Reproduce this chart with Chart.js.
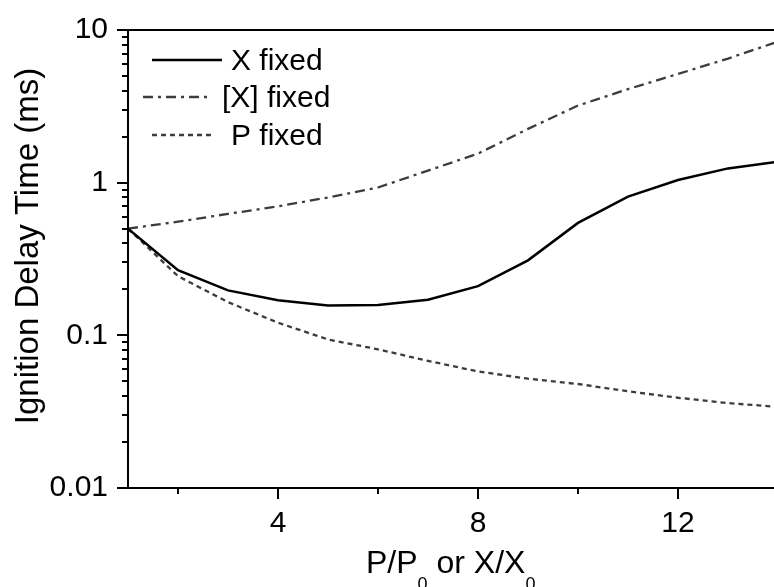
<!DOCTYPE html>
<html>
<head>
    <title>Ignition Delay Time</title>
    <script src="https://cdn.jsdelivr.net/npm/chart.js"></script>
    <style>
        body { margin: 0; background: #fff; }
    </style>
</head>
<body>
    <div style="width: 774px; height: 587px">
        <canvas id="delayChart"></canvas>
    </div>
    <script>
        // values
        const ratio = [1, 2, 3, 4, 5, 6, 7, 8, 9, 10, 11, 12, 13, 14];
        const xFixed = [0.5, 0.267, 0.197, 0.170, 0.157, 0.158, 0.171, 0.21, 0.31, 0.545, 0.81, 1.04, 1.24, 1.37];
        const concFixed = [0.5, 0.555, 0.625, 0.70, 0.80, 0.93, 1.2, 1.55, 2.25, 3.2, 4.1, 5.15, 6.5, 8.4];
        const pFixed = [0.5, 0.244, 0.165, 0.121, 0.094, 0.081, 0.068, 0.058, 0.052, 0.048, 0.043, 0.039, 0.036, 0.034];

        const xTickLabels = [4, 8, 12];
        const xMinorTicks = [2, 6, 10, 14];
        const yTickLabels = [0.01, 0.1, 1, 10];
        const seriesNames = ['X fixed', '[X] fixed', 'P fixed'];
        const yTitle = 'Ignition Delay Time (ms)';

        const font = 'Liberation Sans, Arial, sans-serif';
        const pts = (ys) => ratio.map((x, i) => ({ x: x, y: ys[i] }));

        // axes, tick marks, legend and axis titles drawn on the canvas
        const framePlugin = {
            id: 'frame',
            afterDatasetsDraw(chart) {
                const ctx = chart.ctx;
                const area = chart.chartArea;
                const xs = chart.scales.x;
                const ys = chart.scales.y;
                ctx.save();
                ctx.strokeStyle = '#000';
                ctx.lineWidth = 2;
                ctx.beginPath();
                ctx.moveTo(area.right + 2, area.top);
                ctx.lineTo(area.left, area.top);
                ctx.lineTo(area.left, area.bottom);
                ctx.lineTo(area.right + 2, area.bottom);
                ctx.stroke();

                // y ticks (major + log minors)
                for (let d = 0; d < yTickLabels.length; d++) {
                    const dec = yTickLabels[d];
                    for (let m = 1; m <= 9; m++) {
                        const v = dec * m;
                        if (v > yTickLabels[yTickLabels.length - 1] + 1e-9) break;
                        const py = Math.round(ys.getPixelForValue(v));
                        const len = m === 1 ? 11 : 6;
                        ctx.beginPath();
                        ctx.moveTo(area.left - len, py);
                        ctx.lineTo(area.left, py);
                        ctx.stroke();
                    }
                }
                // x ticks
                xTickLabels.forEach(v => {
                    const px = Math.round(xs.getPixelForValue(v));
                    ctx.beginPath();
                    ctx.moveTo(px, area.bottom);
                    ctx.lineTo(px, area.bottom + 11);
                    ctx.stroke();
                });
                xMinorTicks.forEach(v => {
                    const px = Math.round(xs.getPixelForValue(v));
                    ctx.beginPath();
                    ctx.moveTo(px, area.bottom);
                    ctx.lineTo(px, area.bottom + 6);
                    ctx.stroke();
                });

                // legend
                const rows = [
                    { x0: 152, x1: 222, y: 60, tx: 231, base: 70 },
                    { x0: 143, x1: 207, y: 97, tx: 222, base: 107 },
                    { x0: 152, x1: 213, y: 135, tx: 231, base: 145 }
                ];
                chart.data.datasets.forEach((ds, i) => {
                    const r = rows[i];
                    ctx.strokeStyle = ds.borderColor;
                    ctx.lineWidth = ds.borderWidth;
                    ctx.setLineDash(ds.borderDash || []);
                    ctx.beginPath();
                    ctx.moveTo(r.x0, r.y);
                    ctx.lineTo(r.x1, r.y);
                    ctx.stroke();
                    ctx.setLineDash([]);
                    ctx.fillStyle = '#000';
                    ctx.font = '30px ' + font;
                    ctx.textAlign = 'left';
                    ctx.textBaseline = 'alphabetic';
                    ctx.fillText(seriesNames[i], r.tx, r.base);
                });

                // y axis title
                ctx.fillStyle = '#000';
                ctx.font = '33px ' + font;
                ctx.save();
                ctx.translate(29, 246);
                ctx.rotate(-Math.PI / 2);
                ctx.textAlign = 'center';
                ctx.textBaseline = 'middle';
                ctx.fillText(yTitle, 0, 0);
                ctx.restore();

                // x axis title with subscripts
                const parts = [['P/P', false], ['0', true], [' or X/X', false], ['0', true]];
                const big = '32px ' + font, small = '18px ' + font;
                let cx = 366;
                const baseY = 573;
                ctx.textAlign = 'left';
                ctx.textBaseline = 'alphabetic';
                parts.forEach(p => {
                    ctx.font = p[1] ? small : big;
                    ctx.fillText(p[0], cx, p[1] ? baseY + 17 : baseY);
                    cx += ctx.measureText(p[0]).width;
                });
                ctx.restore();
            }
        };

        const ctx = document.getElementById('delayChart').getContext('2d');
        new Chart(ctx, {
            type: 'line',
            data: {
                datasets: [{
                    label: seriesNames[0],
                    data: pts(xFixed),
                    borderColor: '#000',
                    borderWidth: 2.5,
                    pointRadius: 0
                }, {
                    label: seriesNames[1],
                    data: pts(concFixed),
                    borderColor: '#3c3c3c',
                    borderWidth: 2.3,
                    borderDash: [10, 5, 3, 5],
                    pointRadius: 0
                }, {
                    label: seriesNames[2],
                    data: pts(pFixed),
                    borderColor: '#3c3c3c',
                    borderWidth: 2.3,
                    borderDash: [5, 4],
                    pointRadius: 0
                }]
            },
            options: {
                responsive: true,
                maintainAspectRatio: false,
                animation: false,
                layout: { padding: { top: 30, right: 0, left: 0, bottom: 0 } },
                plugins: {
                    legend: { display: false },
                    tooltip: { enabled: false }
                },
                scales: {
                    x: {
                        type: 'linear',
                        min: 1,
                        max: 13.92,
                        grid: { display: false, drawTicks: false, tickLength: 0 },
                        border: { display: false },
                        afterBuildTicks: (scale) => {
                            scale.ticks = xTickLabels.map(v => ({ value: v }));
                        },
                        afterFit: (scale) => {
                            scale.height = 99;
                            scale.paddingLeft = 0;
                            scale.paddingRight = 0;
                        },
                        ticks: {
                            padding: 18,
                            maxRotation: 0,
                            color: '#000',
                            font: { family: font, size: 30 },
                            callback: (v) => String(v)
                        }
                    },
                    y: {
                        type: 'logarithmic',
                        min: 0.01,
                        max: 10,
                        grid: { display: false, drawTicks: false, tickLength: 0 },
                        border: { display: false },
                        afterBuildTicks: (scale) => {
                            scale.ticks = yTickLabels.map(v => ({ value: v }));
                        },
                        afterFit: (scale) => {
                            scale.width = 128;
                            scale.paddingTop = 0;
                            scale.paddingBottom = 0;
                        },
                        ticks: {
                            padding: 20,
                            color: '#000',
                            font: { family: font, size: 30 },
                            callback: (v) => String(v)
                        }
                    }
                }
            },
            plugins: [framePlugin]
        });
    </script>
</body>
</html>
